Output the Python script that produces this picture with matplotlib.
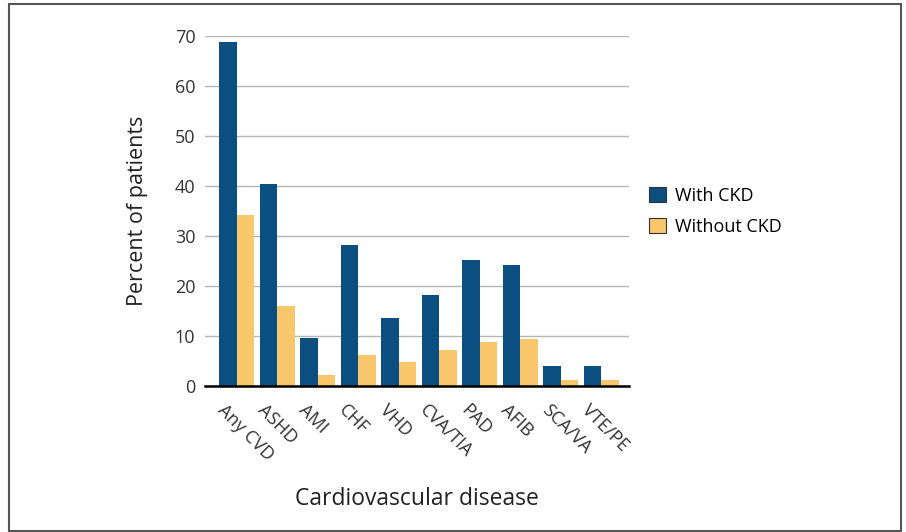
import matplotlib
matplotlib.use("Agg")
import matplotlib.pyplot as plt
import numpy as np
from matplotlib.patches import Rectangle

categories = ["Any CVD", "ASHD", "AMI", "CHF", "VHD", "CVA/TIA", "PAD", "AFIB", "SCA/VA", "VTE/PE"]
with_ckd = [68.8, 40.3, 9.7, 28.2, 13.6, 18.2, 25.3, 24.3, 4.1, 4.1]
without_ckd = [34.1, 16.0, 2.3, 6.2, 4.9, 7.2, 8.9, 9.4, 1.2, 1.2]
yticks = [0, 10, 20, 30, 40, 50, 60, 70]

plt.rcParams['font.family'] = ['Open Sans', 'DejaVu Sans']

fig = plt.figure(figsize=(9.06, 5.32), dpi=100)
ax = fig.add_axes([205/906, 1-386/532, 424/906, 350/532])

x = np.arange(len(categories))
w = 0.43
ax.bar(x - w/2, with_ckd, w, color="#0B4F80", label="With CKD", zorder=3)
ax.bar(x + w/2, without_ckd, w, color="#F8C76B", label="Without CKD", zorder=3)

ax.set_xlim(-0.78, len(categories) - 0.32)
ax.set_ylim(0, 70)
ax.set_yticks(yticks)
ax.yaxis.grid(True, color="#b5b5b5", linewidth=1.0, zorder=0)
ax.tick_params(axis='both', length=0, labelsize=13, colors="#333333")
ax.tick_params(axis='y', pad=7)
for s in ["top", "right", "left"]:
    ax.spines[s].set_visible(False)
ax.spines["bottom"].set_color("black")
ax.spines["bottom"].set_linewidth(1.8)
ax.spines["bottom"].set_zorder(4)

ax.set_xticks(x - 0.25)
ax.set_xticklabels(categories, rotation=-45, ha='left', va='top', rotation_mode='anchor', fontsize=13, color="#333333")
ax.tick_params(axis='x', pad=11)

ax.set_ylabel("Percent of patients", fontsize=15.5, color="#222222", labelpad=19)
ax.set_xlabel("Cardiovascular disease", fontsize=16.5, color="#222222", labelpad=16)

leg = ax.legend(loc='upper left', bbox_to_anchor=(1.01, 0.615), frameon=False, fontsize=13,
                handlelength=0.9, handleheight=0.9, handletextpad=0.5, labelspacing=0.7)
for h in leg.legend_handles:
    h.set_edgecolor("#333333")
    h.set_linewidth(0.8)

fig.patches.append(Rectangle((9/906, 1-531/532), 892/906, 527/532, transform=fig.transFigure,
                             fill=False, edgecolor="#555555", linewidth=1.5))

fig.savefig("out.png", dpi=100)
